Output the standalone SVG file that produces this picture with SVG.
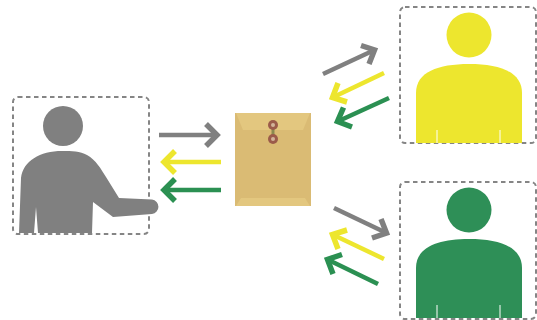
<svg xmlns="http://www.w3.org/2000/svg" width="537" height="320" viewBox="0 0 537 320">
<style>
.box{fill:none;stroke:#858585;stroke-width:2;stroke-dasharray:4.500 3.500}
.arr{fill:none;stroke-width:4.500;stroke-miterlimit:6}
.head{fill:none;stroke-width:5.500;stroke-miterlimit:6}
.g{stroke:#808080}.y{stroke:#ede62e}.v{stroke:#2b9052}
.gf{fill:#808080}.yf{fill:#ede62e}.vf{fill:#2e8f57}
.slit{stroke:#fff;stroke-width:1;fill:none}
.btn{fill:#9b5b4a}.eye{fill:#d3b49a}
</style>
<defs>
<path id="torso" d="M416 143V93C416 72 438 64 469 64S522 72 522 93V143Z"/>
<path id="slits" d="M437 143V130M500 143V130"/>
</defs>
<g id="sender">
<rect class="box" x="13" y="97" width="136" height="137" rx="5"/>
<circle class="gf" cx="63" cy="126" r="20"/>
<path class="gf" d="M19 233L21 178C23 161 40 151 62 151C72 151 80 151 87 155C96 160 101 169 106 177L119 198L152 199.500A7.300 7.300 0 0 1 152 214L113 217L93 202L92 233H38L36 207L34 233Z"/>
</g>
<g id="envelope">
<rect x="235" y="113" width="76" height="93" fill="#dabb74"/>
<path d="M236 113H310L303 130H243Z" fill="#e3c77f"/>
<path d="M241 198H305L310 206H236Z" fill="#e3c77f"/>
<path d="M273 125V139" stroke="#8a8a50" stroke-width="3"/>
<circle class="btn" cx="273" cy="125" r="5"/>
<circle class="btn" cx="273" cy="139" r="5"/>
<circle class="eye" cx="273" cy="125" r="2"/>
<circle class="eye" cx="273" cy="139" r="2"/>
</g>
<g id="recipient-yellow">
<rect class="box" x="400" y="7" width="136" height="136" rx="5"/>
<circle class="yf" cx="469" cy="35" r="22.500"/>
<use href="#torso" class="yf"/>
<use href="#slits" class="slit"/>
</g>
<g id="recipient-green">
<rect class="box" x="400" y="182" width="136" height="137" rx="5"/>
<circle class="vf" cx="469" cy="210" r="22.500"/>
<use href="#torso" class="vf" y="175"/>
<use href="#slits" class="slit" y="175"/>
</g>
<g id="connectors">
<path class="arr g" d="M159 135H217"/><path class="head g" d="M206 124L217 135L206 146"/>
<path class="arr y" d="M221 162H164"/><path class="head y" d="M175 151L164 162L175 173"/>
<path class="arr v" d="M221 190H164"/><path class="head v" d="M175 179L164 190L175 201"/>
<path class="arr g" d="M323 74L374.500 50"/><path class="head g" d="M361 45.500L374.500 50L369 64"/>
<path class="arr y" d="M384 73L332.500 97.500"/><path class="head y" d="M338 83L332.500 97.500L347 102"/>
<path class="arr v" d="M389 98L337.500 121.500"/><path class="head v" d="M343.500 107.500L337.500 121.500L352 127"/>
<path class="arr g" d="M334 208L386.500 233"/><path class="head g" d="M381 219L386.500 233L372 238"/>
<path class="arr y" d="M384 259L332.500 234.500"/><path class="head y" d="M347 230L332.500 234.500L338 249"/>
<path class="arr v" d="M378 284L327.500 259.500"/><path class="head v" d="M342 254.500L327.500 259.500L333 274"/>
</g>
</svg>
